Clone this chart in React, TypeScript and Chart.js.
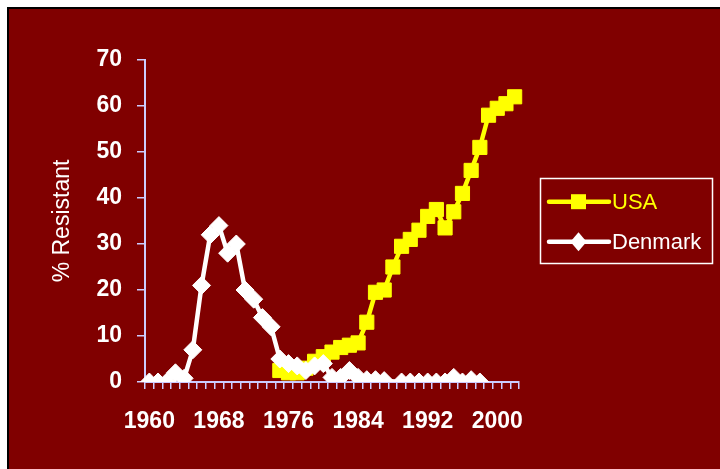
import React, { useEffect, useRef } from "react";
import { Chart, registerables } from "chart.js";

Chart.register(...registerables);

const years: string[] = [];
for (let y = 1960; y <= 2002; y++) years.push(String(y));

// 1960 .. 2002
const usaValues: (number | null)[] = [
  null, null, null, null, null, null, null, null, null, null, // 1960-1969
  null, null, null, null, null, 2.5, 2, 2, 3, 4.5,            // 1970-1979
  5.5, 6.5, 7.5, 8, 8.5, 13, 19.5, 20, 25, 29.5,               // 1980-1989
  31, 33, 36, 37.5, 33.5, 37, 41, 46, 51, 58,                  // 1990-1999
  59.5, 60.5, 62,                                              // 2000-2002
];

const denmarkValues: (number | null)[] = [
  0, 0, 0, 2, 0.8, 7, 21, 32, 34, 28,                          // 1960-1969
  30, 20, 18, 14, 12, 5, 4, 3.5, 2.5, 3.5,                     // 1970-1979
  4, 1, 1, 2.5, 1, 0.5, 0.5, 0.3, null, 0,                     // 1980-1989
  0, 0, 0, 0, 0, 1, 0, 0.5, 0, null,                           // 1990-1999
  null, null, null,                                            // 2000-2002
];

const yTicks = { min: 0, max: 70, step: 10 };
const seriesNames = ["USA", "Denmark"];
const seriesColors = ["#ffff00", "#ffffff"];

const AXIS_COLOR = "#ccccff";
const FONT = "'Liberation Sans', Arial, sans-serif";

const legendPlugin = {
  id: "boxLegend",
  afterDraw(chart: any) {
    const ctx = chart.ctx as CanvasRenderingContext2D;
    ctx.save();
    ctx.strokeStyle = "#ffffff";
    ctx.lineWidth = 1.5;
    ctx.strokeRect(531.5, 169.5, 172, 85);
    const rows = [192.7, 232.7];
    seriesNames.forEach((name, i) => {
      const y = rows[i];
      const color = seriesColors[i];
      ctx.strokeStyle = color;
      ctx.fillStyle = color;
      ctx.lineWidth = 4.5;
      ctx.lineCap = "round";
      ctx.beginPath();
      ctx.moveTo(540, y);
      ctx.lineTo(600, y);
      ctx.stroke();
      const cx = 569.5;
      ctx.beginPath();
      if (i === 0) {
        ctx.rect(cx - 7.5, y - 7.5, 15, 15);
      } else {
        const r = 9.5;
        ctx.moveTo(cx - r * 0.85, y);
        ctx.lineTo(cx, y - r);
        ctx.lineTo(cx + r * 0.85, y);
        ctx.lineTo(cx, y + r);
        ctx.closePath();
      }
      ctx.fill();
      ctx.font = `22px ${FONT}`;
      ctx.textAlign = "left";
      ctx.textBaseline = "middle";
      ctx.fillText(name, 603, y + 1);
    });
    ctx.restore();
  },
};

export default function App() {
  const canvasRef = useRef<HTMLCanvasElement | null>(null);

  useEffect(() => {
    document.documentElement.style.overflow = "hidden";
    document.body.style.overflow = "hidden";
    const canvas = canvasRef.current;
    if (!canvas) return;
    const chart = new Chart(canvas, {
      type: "line",
      data: {
        labels: years,
        datasets: [
          {
            label: seriesNames[0],
            data: usaValues,
            borderColor: seriesColors[0],
            backgroundColor: seriesColors[0],
            borderWidth: 4.5,
            pointStyle: "rect",
            pointRadius: 10,
            pointBorderWidth: 1,
            pointBorderColor: seriesColors[0],
            pointBackgroundColor: seriesColors[0],
            tension: 0,
            spanGaps: true,
            order: 1,
          },
          {
            label: seriesNames[1],
            data: denmarkValues,
            borderColor: seriesColors[1],
            backgroundColor: seriesColors[1],
            borderWidth: 4.5,
            pointStyle: "rectRot",
            pointRadius: 9,
            pointBorderWidth: 1,
            pointBorderColor: seriesColors[1],
            pointBackgroundColor: seriesColors[1],
            tension: 0,
            spanGaps: true,
            order: 0,
          },
        ],
      },
      options: {
        responsive: false,
        animation: false,
        devicePixelRatio: 1,
        layout: { padding: { left: 0, right: 210, top: 51, bottom: 37 } },
        plugins: {
          legend: { display: false },
          tooltip: { enabled: false },
        },
        scales: {
          x: {
            type: "category",
            offset: true,
            grid: {
              offset: true,
              drawOnChartArea: false,
              drawTicks: true,
              tickLength: 7,
              tickColor: AXIS_COLOR,
              lineWidth: 1.5,
            },
            border: { color: AXIS_COLOR, width: 2 },
            ticks: {
              autoSkip: false,
              maxRotation: 0,
              minRotation: 0,
              padding: 19,
              color: "#ffffff",
              font: { family: FONT, size: 23, weight: "bold" },
              callback: function (this: any, value: any, index: number) {
                return index % 8 === 0 ? this.getLabelForValue(value) : "";
              },
            },
            afterFit: (scale: any) => {
              scale.height = 60;
            },
          },
          y: {
            min: yTicks.min,
            max: yTicks.max,
            grid: {
              drawOnChartArea: false,
              drawTicks: true,
              tickLength: 8,
              tickColor: AXIS_COLOR,
              lineWidth: 1.5,
            },
            border: { color: AXIS_COLOR, width: 2 },
            ticks: {
              stepSize: yTicks.step,
              padding: 15,
              color: "#ffffff",
              font: { family: FONT, size: 23, weight: "bold" },
            },
            title: {
              display: true,
              text: "% Resistant",
              color: "#ffffff",
              font: { family: FONT, size: 23, weight: "normal" },
              padding: { top: 40, bottom: 0 },
            },
            afterFit: (scale: any) => {
              scale.width = 136;
            },
          },
        },
      },
      plugins: [legendPlugin],
    });
    return () => chart.destroy();
  }, []);

  return (
    <div
      style={{
        position: "fixed",
        left: 7,
        top: 7,
        width: 760,
        height: 490,
        borderTop: "2px solid #000000",
        borderLeft: "2px solid #000000",
        background: "#800000",
      }}
    >
      <canvas
        ref={canvasRef}
        width={720}
        height={470}
        style={{ display: "block", width: 720, height: 470 }}
      />
    </div>
  );
}
